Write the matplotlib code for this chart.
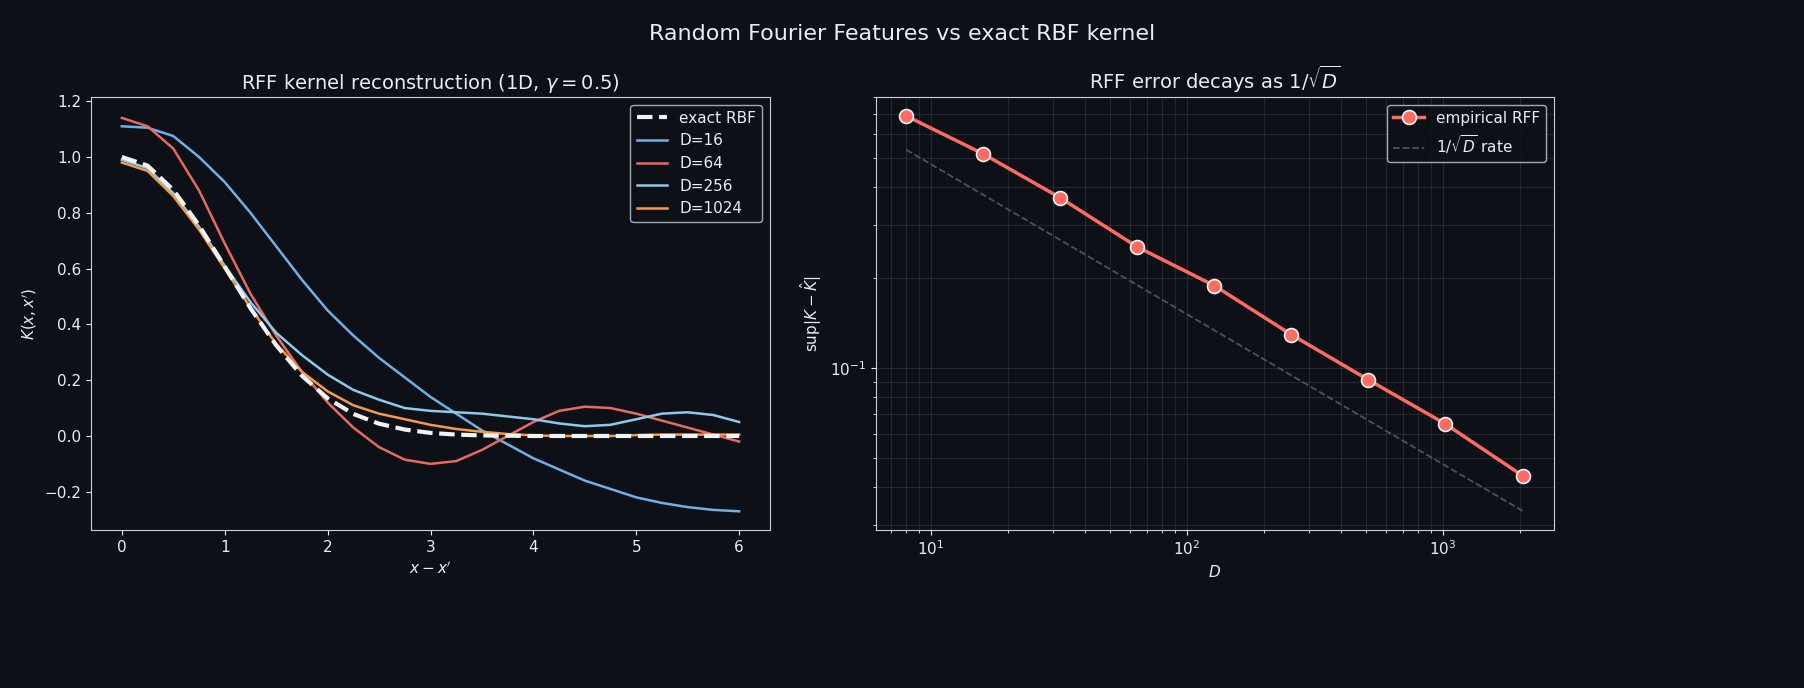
import numpy as np
import matplotlib.pyplot as plt

x = np.arange(0, 6.01, 0.25)
exact = [1, .969, .882, .755, .607, .458, .325, .216, .135, .079, .044, .023, .011, .005, .002, .001, 0, 0, 0, 0, 0, 0, 0, 0, 0]
d16 = [1.11, 1.105, 1.075, 1.00, 0.91, 0.80, 0.68, 0.56, 0.45, 0.36, 0.28, 0.21, 0.14, 0.08, 0.02, -0.03, -0.08, -0.12, -0.16, -0.19, -0.22, -0.24, -0.255, -0.265, -0.27]
d64 = [1.14, 1.11, 1.03, 0.88, 0.69, 0.51, 0.36, 0.23, 0.12, 0.03, -0.04, -0.085, -0.10, -0.09, -0.05, 0.00, 0.05, 0.09, 0.105, 0.10, 0.08, 0.055, 0.03, 0.005, -0.02]
d256 = [0.99, 0.96, 0.87, 0.75, 0.61, 0.48, 0.37, 0.29, 0.22, 0.165, 0.13, 0.10, 0.09, 0.085, 0.08, 0.07, 0.06, 0.045, 0.035, 0.04, 0.06, 0.08, 0.085, 0.075, 0.05]
d1024 = [0.98, 0.95, 0.86, 0.74, 0.60, 0.46, 0.33, 0.23, 0.16, 0.11, 0.08, 0.06, 0.04, 0.025, 0.015, 0.007, 0.002, 0.0, 0.0, 0.0, 0.003, 0.005, 0.005, 0.005, 0.005]

Ds = [8, 16, 32, 64, 128, 256, 512, 1024, 2048]
err = [0.692, 0.517, 0.369, 0.253, 0.188, 0.129, 0.0912, 0.065, 0.0437]
rate_c = 1.51

BG = '#0d1117'
FG = '#e6edf3'
SP = '#c9d1d9'
plt.rcParams.update({'text.color': FG, 'axes.labelcolor': FG, 'xtick.color': FG, 'ytick.color': FG,
                     'axes.edgecolor': SP, 'font.size': 11})

fig = plt.figure(figsize=(18.04, 6.88), dpi=100, facecolor=BG)
ax1 = fig.add_axes([91/1804, 1-530/688, 679/1804, 433/688], facecolor=BG)
ax2 = fig.add_axes([876/1804, 1-530/688, 678/1804, 433/688], facecolor=BG)

ax1.plot(x, exact, '--', color='#f0f3f6', lw=3, label='exact RBF', zorder=5)
ax1.plot(x, d16, color='#6fb0e8', lw=1.8, label='D=16')
ax1.plot(x, d64, color='#e86a5f', lw=1.8, label='D=64')
ax1.plot(x, d256, color='#8ec9ec', lw=1.8, label='D=256')
ax1.plot(x, d1024, color='#f59b45', lw=1.8, label='D=1024')
ax1.set_ylim(-0.337, 1.215)
ax1.set_title(r'RFF kernel reconstruction (1D, $\gamma=0.5$)', fontsize=14, color=FG)
ax1.set_xlabel(r"$x - x'$")
ax1.set_ylabel(r"$K(x, x')$")
leg = ax1.legend(loc='upper right', facecolor=BG, edgecolor=SP, fontsize=11)
for t in leg.get_texts(): t.set_color(FG)

Dr = np.array(Ds)
ax2.plot(Ds, err, '-o', color='#ff6b61', lw=2.5, ms=10, mec='#f0f3f6', mew=1.2, label='empirical RFF', zorder=5)
ax2.plot(Ds, rate_c / np.sqrt(Dr), '--', color='#4a5261', lw=1.3, label=r'$1/\sqrt{D}$ rate')
ax2.set_xscale('log'); ax2.set_yscale('log')
ax2.set_xlim(6.1, 2718); ax2.set_ylim(0.0288, 0.80)
ax2.grid(True, which='both', color='#8b949e', alpha=0.18, lw=0.8)
ax2.set_title(r'RFF error decays as $1/\sqrt{D}$', fontsize=14, color=FG)
ax2.set_xlabel(r'$D$')
ax2.set_ylabel(r'$\sup|K-\hat{K}|$')
leg = ax2.legend(loc='upper right', facecolor=BG, edgecolor=SP, fontsize=11)
for t in leg.get_texts(): t.set_color(FG)

fig.suptitle('Random Fourier Features vs exact RBF kernel', fontsize=16, color=FG, y=0.965)
fig.savefig('out.png', facecolor=BG)
